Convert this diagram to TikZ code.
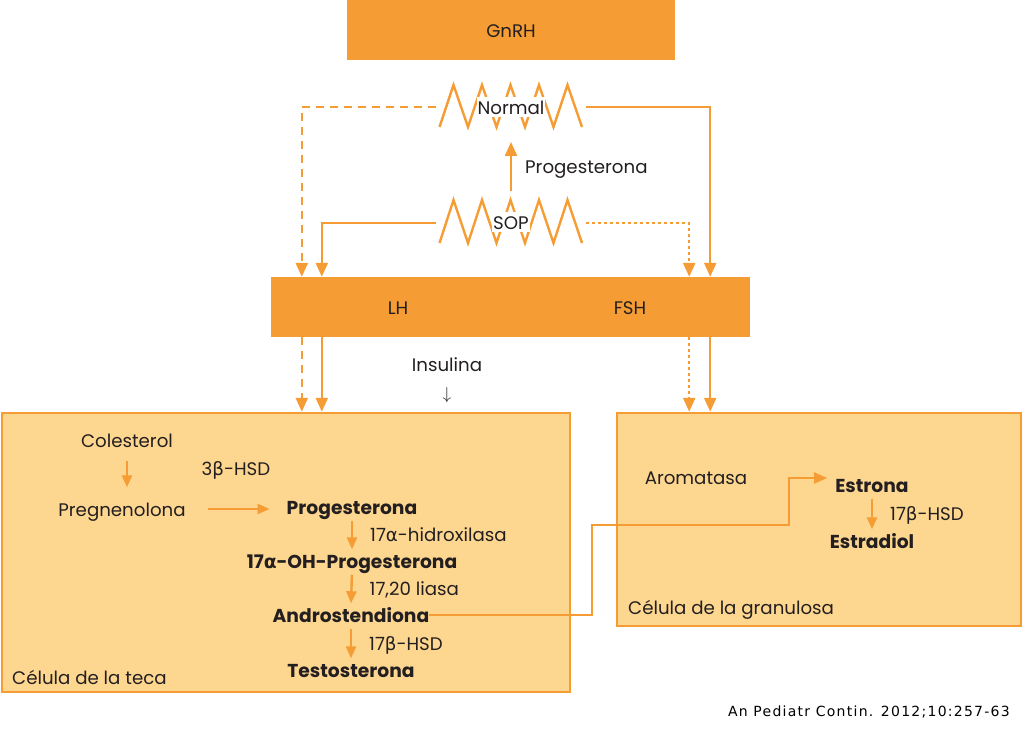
\documentclass[tikz,border=0pt]{standalone}
\usepackage{fontspec}
\setmainfont{Poppins}
\newfontfamily\greekfont{DejaVu Sans}
\newfontfamily\sourcefont[LetterSpace=9]{DejaVu Sans}
\usetikzlibrary{arrows.meta}
\definecolor{hormone}{HTML}{F59D34}
\definecolor{cellfill}{HTML}{FDD68F}
\definecolor{ink}{HTML}{231F20}
\newcommand{\galpha}{{\greekfont α}}
\newcommand{\gbeta}{{\greekfont β}}
\tikzset{
  txt/.style={inner sep=0pt, text=ink, text height=16pt, text depth=1pt, font=\fontsize{18.2}{21}\selectfont},
  compound/.style={txt, font=\fontsize{18.7}{21}\selectfont\bfseries},
  hormonebox/.style={txt, fill=hormone, minimum height=60pt},
  cell/.style={draw=hormone, fill=cellfill, line width=2.5pt},
  feed/.style={draw=hormone, line width=2.4pt, -{Triangle[length=14pt,width=12pt]}},
  conv/.style={draw=hormone, line width=2.4pt, -{Triangle[length=12pt,width=10pt]}, shorten <=5pt, shorten >=3pt},
  link/.style={draw=hormone, line width=2pt, -{Triangle[length=13pt,width=11pt]}, shorten >=8pt},
  pulse/.style={draw=hormone, line width=2.4pt},
  pulsetag/.style={txt, fill=white, inner xsep=1pt, inner ysep=1.5pt}
}

\begin{document}
\begin{tikzpicture}[x=1pt, y=-1pt]
  \useasboundingbox (0,0) rectangle (1024,735);
  \node[hormonebox, minimum width=328pt] (gnrh) at (511,30) {GnRH};
  \draw[pulse] (439.5,127) \foreach \i in {1,...,5} {-- ++(14,-42) -- ++(14.5,42)};
  \node[pulsetag] (normal) at (511,107) {Normal};
  \draw[pulse] (439.5,243) \foreach \i in {1,...,5} {-- ++(14,-43) -- ++(14.5,43)};
  \node[pulsetag] (sop) at (511,222) {SOP};
  \coordinate (normalW) at (436,107);
  \coordinate (normalE) at (586,107);
  \coordinate (normalS) at (511,142);
  \coordinate (sopW) at (436,223);
  \coordinate (sopE) at (586,223);
  \coordinate (sopN) at (511,191);
  \draw[feed] (sopN) -- node[txt, right=13pt] {Progesterona} (normalS);

  \node[hormonebox, minimum width=479pt] (gonad) at (510.5,307) {};
  \node[txt] (lh) at (398,307) {LH};
  \node[txt] (fsh) at (630,307) {FSH};
  \coordinate (lhA) at ([xshift=31pt]gonad.south west);
  \coordinate (lhB) at ([xshift=51pt]gonad.south west);
  \coordinate (fshA) at ([xshift=-61pt]gonad.south east);
  \coordinate (fshB) at ([xshift=-40pt]gonad.south east);
  \draw[feed, dash pattern=on 8pt off 6pt] (normalW) -| (lhA |- gonad.north);
  \draw[feed] (sopW) -| (lhB |- gonad.north);
  \draw[feed, dash pattern=on 3pt off 3pt] (sopE) -| (fshA |- gonad.north);
  \draw[feed] (normalE) -| (fshB |- gonad.north);

  \node[cell, minimum width=568pt, minimum height=279pt] (teca) at (286,552.5) {};
  \node[cell, minimum width=404pt, minimum height=213pt] (gran) at (819,519.5) {};
  \draw[feed, dash pattern=on 8pt off 6pt] (lhA) -- (lhA |- teca.north);
  \draw[feed] (lhB) -- (lhB |- teca.north);
  \draw[feed, dash pattern=on 3pt off 3pt] (fshA) -- (fshA |- gran.north);
  \draw[feed] (fshB) -- (fshB |- gran.north);
  \node[txt] (insulina) at (447,364) {Insulina};
  \node[txt] (insdown) at (447,392) {$\downarrow$};

  \node[txt] (coles) at (127,440) {Colesterol};
  \node[txt] (pregn) at (122,509) {Pregnenolona};
  \node[txt] (hsd3) at (236,468) {3\gbeta-HSD};
  \node[compound] (progest) at (352,507) {Progesterona};
  \node[compound] (ohprog) at (352,561) {17\galpha-OH-Progesterona};
  \node[compound] (andro) at (351,615) {Androstendiona};
  \node[compound] (testo) at (351,670) {Testosterona};
  \node[txt, anchor=west] (tecalabel) at (12,677) {Célula de la teca};
  \draw[conv, shorten <=12pt, shorten >=13pt] (coles.south) -- (coles.south |- pregn.north);
  \draw[conv, shorten <=22pt, shorten >=17pt] (pregn.east) -- (pregn.east -| progest.west);
  \draw[conv] (progest.south) -- node[txt, right=17pt] {17\galpha-hidroxilasa} (ohprog.north);
  \draw[conv] (ohprog.south) -- node[txt, right=17pt] {17,20 liasa} (andro.north);
  \draw[conv] (andro.south) -- node[txt, right=17pt] {17\gbeta-HSD} (testo.north);

  \node[txt] (aroma) at (696,477) {Aromatasa};
  \node[compound] (estrona) at (872,485) {Estrona};
  \node[compound] (estradiol) at (872,541) {Estradiol};
  \draw[conv] (estrona.south) -- node[txt, right=17pt] {17\gbeta-HSD} (estradiol.north);
  \node[txt, anchor=west] (granlabel) at (628,607) {Célula de la granulosa};
  \coordinate (bend) at (592,525);
  \coordinate (rise) at (789,525);
  \draw[link] (andro.east) -| (bend) -- (rise) |- ([yshift=7pt]estrona.west);

  \node[anchor=east, inner sep=0pt, font=\sourcefont\fontsize{14}{16}\selectfont] (source) at (1010,712) {An Pediatr Contin. 2012;10:257-63};
\end{tikzpicture}
\end{document}
